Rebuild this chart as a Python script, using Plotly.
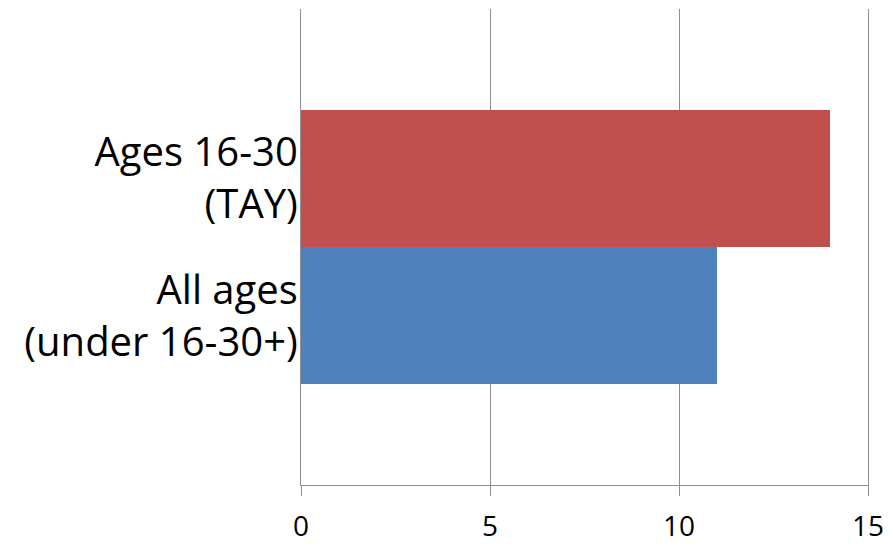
import plotly.graph_objects as go

# Category labels (bottom to top) and their values
categories = ["All ages<br>(under 16-30+)", "Ages 16-30<br>(TAY)"]
values = [11, 14]
bar_colors = ["#4F81BD", "#C0504D"]

x_ticks = [0, 5, 10, 15]

grid_color = "#8f8f8f"

fig = go.Figure(
    go.Bar(
        y=categories,
        x=values,
        orientation="h",
        marker=dict(color=bar_colors, line=dict(width=0)),
        width=1.0,
    )
)

fig.update_layout(
    width=893,
    height=549,
    margin=dict(l=301, r=25, t=9, b=64),
    paper_bgcolor="white",
    plot_bgcolor="white",
    showlegend=False,
    bargap=0,
    font=dict(family="'Open Sans', Lato, sans-serif", color="black"),
)

fig.update_xaxes(
    range=[0, 15],
    tickvals=x_ticks,
    ticktext=[str(t) for t in x_ticks],
    showgrid=True,
    gridcolor=grid_color,
    gridwidth=1.3,
    zeroline=False,
    showline=True,
    linecolor=grid_color,
    linewidth=1.3,
    ticks="outside",
    ticklen=10,
    tickwidth=1.3,
    tickcolor=grid_color,
    ticklabelstandoff=6,
    tickfont=dict(size=28),
    automargin=False,
)

# Left and right edge lines stand in for the gridlines at 0 and 15
fig.update_yaxes(
    range=[-1.237, 2.237],
    showgrid=False,
    zeroline=False,
    showline=True,
    mirror=True,
    linecolor=grid_color,
    linewidth=1.3,
    ticks="",
    ticklabelstandoff=-6,
    tickfont=dict(size=40),
    automargin=False,
)

fig.write_html("out.html")
